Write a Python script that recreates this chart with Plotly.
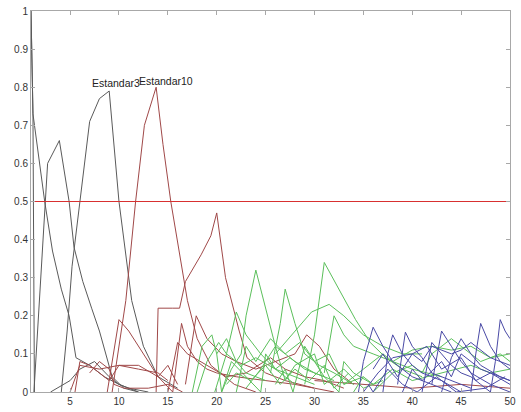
import plotly.graph_objects as go

# ---- axis ticks ----
x_ticks = [5, 10, 15, 20, 25, 30, 35, 40, 45, 50]
y_ticks = [0, 0.1, 0.2, 0.3, 0.4, 0.5, 0.6, 0.7, 0.8, 0.9, 1]
y_labels = ["0", "0.1", "0.2", "0.3", "0.4", "0.5", "0.6", "0.7", "0.8", "0.9", "1"]
threshold = 0.5

# ---- black series ----
k0_x = [1, 1.2, 1.35]
k0_y = [1.0, 0.73, 0.0]
k1_x = [1, 1.2, 2.4, 3.2, 4.1, 4.9, 5.6, 7, 8.5, 10, 12]
k1_y = [1.0, 0.73, 0.5, 0.37, 0.27, 0.2, 0.09, 0.07, 0.04, 0.02, 0.0]
k2_x = [1.3, 2.7, 3.9, 4.9, 5.4, 6.3, 7.2, 8, 9.3, 10.5, 12]
k2_y = [0.0, 0.6, 0.66, 0.5, 0.38, 0.29, 0.22, 0.16, 0.04, 0.01, 0.0]
k3_x = [4.1, 4.7, 5.2, 6.0, 7.0, 8.0, 9.0, 10.0, 11.3, 12.5, 14.0, 16.0]
k3_y = [0.0, 0.16, 0.33, 0.5, 0.71, 0.77, 0.79, 0.5, 0.24, 0.12, 0.04, 0.01]
k4_x = [3, 5, 6, 7.5, 9, 10, 11, 13]
k4_y = [0.0, 0.03, 0.06, 0.08, 0.04, 0.02, 0.01, 0.0]

# ---- red series ----
r1_x = [9.3, 10.7, 11.7, 12.6, 13.8, 14.5, 15.3, 15.8, 17, 18, 19.4, 21.8, 24]
r1_y = [0.0, 0.24, 0.5, 0.7, 0.8, 0.65, 0.5, 0.42, 0.24, 0.14, 0.07, 0.02, 0.0]
r2_x = [13.8, 14.0, 15.5, 16.2, 16.8, 18.4, 19.4, 20, 20.9, 22.3, 23.1, 25, 27, 30]
r2_y = [0.0, 0.22, 0.22, 0.22, 0.29, 0.36, 0.41, 0.47, 0.3, 0.16, 0.09, 0.05, 0.03, 0.01]
r3_x = [8.8, 10, 11, 12.5, 14, 15, 16]
r3_y = [0.0, 0.19, 0.16, 0.1, 0.04, 0.07, 0.02]
r4_x = [5, 6, 8, 10, 12, 14, 15]
r4_y = [0.0, 0.07, 0.06, 0.07, 0.06, 0.05, 0.03]
r5_x = [5.5, 6, 7, 9, 10, 12, 14, 15.5]
r5_y = [0.0, 0.08, 0.07, 0.03, 0.07, 0.07, 0.04, 0.0]
r6_x = [7, 8, 9, 9.5, 10.5, 13, 15, 16.5]
r6_y = [0.05, 0.08, 0.06, 0.02, 0.01, 0.01, 0.02, 0.0]
r7_x = [15.5, 16.4, 17, 18, 19, 20, 22, 25, 28, 30, 32]
r7_y = [0.0, 0.18, 0.12, 0.08, 0.06, 0.05, 0.04, 0.03, 0.02, 0.01, 0.0]
r8_x = [16.8, 17.9, 19, 20.5, 22, 24, 26, 28, 29.2, 30.5, 32, 34]
r8_y = [0.02, 0.2, 0.14, 0.1, 0.08, 0.06, 0.08, 0.1, 0.15, 0.12, 0.06, 0.02]
r9_x = [15, 16, 17, 19, 21, 23, 25.5, 27, 29, 31, 33]
r9_y = [0.0, 0.13, 0.1, 0.07, 0.04, 0.05, 0.09, 0.06, 0.04, 0.03, 0.01]
r10_x = [30, 35, 40, 45, 50]
r10_y = [0.03, 0.02, 0.01, 0.02, 0.01]

# ---- green series ----
g1_x = [20.5, 21.5, 22.5, 23, 24, 25, 26, 27, 28, 30, 32]
g1_y = [0.0, 0.06, 0.1, 0.2, 0.32, 0.22, 0.12, 0.1, 0.08, 0.05, 0.03]
g2_x = [19.8, 21, 22, 23, 24.5, 26, 28, 30]
g2_y = [0.0, 0.1, 0.21, 0.15, 0.1, 0.06, 0.04, 0.02]
g3_x = [25.5, 26.5, 27, 28, 29, 30.5, 32, 34]
g3_y = [0.05, 0.18, 0.27, 0.18, 0.1, 0.07, 0.05, 0.02]
g4_x = [29, 30, 31, 32.7, 34.2, 35.7, 37.3, 39, 41]
g4_y = [0.02, 0.15, 0.34, 0.26, 0.19, 0.13, 0.09, 0.06, 0.04]
g5_x = [31, 32, 33, 34, 36, 38, 40, 43]
g5_y = [0.05, 0.2, 0.15, 0.12, 0.1, 0.08, 0.06, 0.04]
g6_x = [26, 28, 29.7, 31.5, 33, 35, 37, 39, 41]
g6_y = [0.1, 0.16, 0.21, 0.23, 0.2, 0.15, 0.12, 0.1, 0.1]
g7_x = [17.5, 18.5, 19.5, 20, 21, 22, 23, 25]
g7_y = [0.0, 0.12, 0.15, 0.1, 0.14, 0.08, 0.05, 0.03]
g8_x = [18, 19, 20.2, 21, 22.5, 24, 26, 27.5, 29, 31]
g8_y = [0.0, 0.08, 0.13, 0.1, 0.07, 0.09, 0.06, 0.09, 0.06, 0.04]
g9_x = [20, 20.5, 21.5, 23, 24.5, 25, 26, 28]
g9_y = [0.1, 0.0, 0.08, 0.04, 0.0, 0.1, 0.06, 0.02]
g10_x = [26, 27, 27.8, 29, 30, 31, 32.5, 33, 34, 36]
g10_y = [0.02, 0.06, 0.0, 0.12, 0.08, 0.04, 0.0, 0.08, 0.05, 0.02]
g11_x = [33, 35, 37, 38, 40, 42, 44, 46, 48, 50]
g11_y = [0.02, 0.06, 0.1, 0.08, 0.11, 0.12, 0.11, 0.12, 0.09, 0.1]
g12_x = [36, 38, 40, 41, 42, 44, 45, 47, 49, 50]
g12_y = [0.0, 0.05, 0.07, 0.05, 0.1, 0.14, 0.12, 0.08, 0.1, 0.08]
g13_x = [34, 35, 36, 38, 40, 43, 46, 48, 50]
g13_y = [0.0, 0.04, 0.02, 0.06, 0.03, 0.05, 0.07, 0.05, 0.06]
g14_x = [22, 23, 24, 25.5, 27, 28.5, 30, 31.5, 33, 35]
g14_y = [0.0, 0.12, 0.08, 0.14, 0.1, 0.13, 0.08, 0.1, 0.02, 0.04]
g15_x = [21, 22, 23.5, 25, 26.5, 28, 29.5, 31, 32, 33.5]
g15_y = [0.02, 0.05, 0.03, 0.07, 0.02, 0.06, 0.03, 0.07, 0.01, 0.05]
g16_x = [23, 24.5, 26, 27, 28, 30, 31, 33, 35, 37]
g16_y = [0.01, 0.06, 0.12, 0.03, 0.07, 0.1, 0.02, 0.06, 0.01, 0.03]

# ---- blue series ----
b1_x = [34.5, 35, 36, 37, 38, 39, 40, 42, 44]
b1_y = [0.0, 0.08, 0.17, 0.12, 0.08, 0.06, 0.04, 0.02, 0.0]
b2_x = [37, 37.5, 38, 39, 40, 41, 43, 45]
b2_y = [0.0, 0.1, 0.15, 0.1, 0.07, 0.05, 0.03, 0.0]
b3_x = [38.5, 39.3, 40, 41, 42, 44, 46]
b3_y = [0.02, 0.157, 0.12, 0.09, 0.05, 0.03, 0.01]
b4_x = [41, 42, 43, 44, 45, 46, 47, 48]
b4_y = [0.0, 0.13, 0.1, 0.07, 0.05, 0.04, 0.02, 0.0]
b5_x = [42, 43, 44, 45, 46, 48, 50]
b5_y = [0.02, 0.16, 0.12, 0.08, 0.05, 0.02, 0.0]
b6_x = [46, 46.5, 47, 48, 49, 50]
b6_y = [0.0, 0.1, 0.18, 0.12, 0.08, 0.06]
b7_x = [48, 48.5, 49, 49.5, 50]
b7_y = [0.0, 0.08, 0.19, 0.16, 0.14]
b8_x = [35, 36.5, 38, 40, 41, 42, 44, 45, 46, 48, 50]
b8_y = [0.0, 0.05, 0.09, 0.1, 0.08, 0.12, 0.1, 0.11, 0.13, 0.09, 0.07]
b9_x = [39, 40, 41, 43, 44, 45, 47, 49, 50]
b9_y = [0.0, 0.06, 0.03, 0.08, 0.04, 0.1, 0.06, 0.04, 0.03]
b10_x = [43, 44, 45, 46, 47, 49, 50]
b10_y = [0.0, 0.09, 0.14, 0.1, 0.07, 0.04, 0.03]
b11_x = [36, 37, 38.5, 40, 41.5, 43, 45, 46.5, 48, 50]
b11_y = [0.06, 0.1, 0.04, 0.1, 0.12, 0.06, 0.09, 0.03, 0.05, 0.02]
b12_x = [35.5, 36, 37.5, 39, 40.5, 42.5, 44.5, 47.5, 49.5]
b12_y = [0.02, 0.0, 0.06, 0.02, 0.0, 0.04, 0.0, 0.01, 0.04]

# ---- labels ----
label_text = ["Estandar3", "Estandar10"]
label_x = [7.0, 11.8]
label_y = [0.81, 0.815]

BLACK = "#5a5a5a"
RED = "#a04848"
GREEN = "#5bbf5b"
BLUE = "#4a4aa6"
THRESH = "#d83030"

groups = [
    (BLACK, [(k0_x, k0_y), (k1_x, k1_y), (k2_x, k2_y), (k3_x, k3_y), (k4_x, k4_y)]),
    (RED, [(r1_x, r1_y), (r2_x, r2_y), (r3_x, r3_y), (r4_x, r4_y), (r5_x, r5_y),
           (r6_x, r6_y), (r7_x, r7_y), (r8_x, r8_y), (r9_x, r9_y), (r10_x, r10_y)]),
    (GREEN, [(g1_x, g1_y), (g2_x, g2_y), (g3_x, g3_y), (g4_x, g4_y), (g5_x, g5_y),
             (g6_x, g6_y), (g7_x, g7_y), (g8_x, g8_y), (g9_x, g9_y), (g10_x, g10_y),
             (g11_x, g11_y), (g12_x, g12_y), (g13_x, g13_y), (g14_x, g14_y),
             (g15_x, g15_y), (g16_x, g16_y)]),
    (BLUE, [(b1_x, b1_y), (b2_x, b2_y), (b3_x, b3_y), (b4_x, b4_y), (b5_x, b5_y),
            (b6_x, b6_y), (b7_x, b7_y), (b8_x, b8_y), (b9_x, b9_y), (b10_x, b10_y),
            (b11_x, b11_y), (b12_x, b12_y)]),
]

fig = go.Figure()
for color, series in groups:
    for xs, ys in series:
        fig.add_trace(go.Scatter(x=xs, y=ys, mode="lines",
                                 line=dict(color=color, width=1),
                                 showlegend=False, hoverinfo="skip"))

fig.add_trace(go.Scatter(x=[1, 50], y=[threshold, threshold], mode="lines",
                         line=dict(color=THRESH, width=1),
                         showlegend=False, hoverinfo="skip"))

for t, xx, yy in zip(label_text, label_x, label_y):
    fig.add_annotation(x=xx, y=yy, text=t, showarrow=False,
                       xanchor="left", yanchor="middle",
                       font=dict(family="Liberation Sans, Arial", size=10.5, color="#222"))

axis_common = dict(showline=True, linecolor="#a8a8a8", linewidth=1, mirror="ticks",
                   ticks="inside", ticklen=4, tickcolor="#a8a8a8", showgrid=False,
                   zeroline=False,
                   tickfont=dict(family="Liberation Sans, Arial", size=10, color="#333"))

fig.update_xaxes(range=[1, 50], tickvals=x_ticks, ticklabeloverflow="allow", **axis_common)
fig.update_yaxes(range=[0, 1], tickvals=y_ticks, ticktext=y_labels, **axis_common)

fig.update_layout(width=521, height=412, margin=dict(l=31, r=5, t=11, b=18),
                  plot_bgcolor="white", paper_bgcolor="white")

fig.write_html("out.html")
